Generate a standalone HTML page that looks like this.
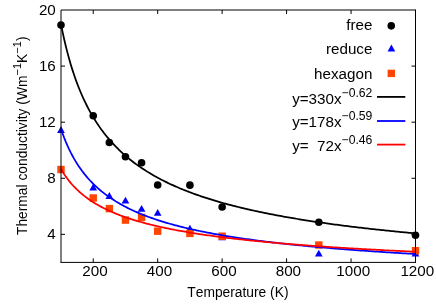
<!DOCTYPE html>
<html><head><meta charset="utf-8"><title>Thermal conductivity</title>
<style>
html,body{margin:0;padding:0;background:#fff;}
body{width:436px;height:305px;overflow:hidden;}
svg{display:block;will-change:transform;}
text{font-family:"Liberation Sans",sans-serif;fill:#000;font-kerning:none;}
.t{font-size:15.2px;}
.s{font-size:12.2px;}
.l{font-size:13.8px;}
.ls{font-size:11.05px;}
</style></head><body>
<svg width="436" height="305" viewBox="0 0 436 305">
<rect x="0" y="0" width="436" height="305" fill="#fff"/>
<g>
<circle cx="61.00" cy="25.10" r="3.8" fill="#000"/>
<circle cx="93.23" cy="115.80" r="3.8" fill="#000"/>
<circle cx="109.34" cy="142.50" r="3.8" fill="#000"/>
<circle cx="125.45" cy="156.70" r="3.8" fill="#000"/>
<circle cx="141.57" cy="162.70" r="3.8" fill="#000"/>
<circle cx="157.68" cy="185.05" r="3.8" fill="#000"/>
<circle cx="189.91" cy="185.15" r="3.8" fill="#000"/>
<circle cx="222.14" cy="207.00" r="3.8" fill="#000"/>
<circle cx="318.82" cy="222.30" r="3.8" fill="#000"/>
<circle cx="415.50" cy="235.30" r="3.8" fill="#000"/>
<path d="M61.00 126.07L64.85 132.97L57.15 132.97Z" fill="#0000ff"/>
<path d="M93.23 183.57L97.08 190.47L89.38 190.47Z" fill="#0000ff"/>
<path d="M109.34 192.07L113.19 198.97L105.49 198.97Z" fill="#0000ff"/>
<path d="M125.45 196.67L129.30 203.57L121.60 203.57Z" fill="#0000ff"/>
<path d="M141.57 204.97L145.42 211.87L137.72 211.87Z" fill="#0000ff"/>
<path d="M157.68 208.97L161.53 215.87L153.83 215.87Z" fill="#0000ff"/>
<path d="M189.91 224.67L193.76 231.57L186.06 231.57Z" fill="#0000ff"/>
<path d="M222.14 233.37L225.99 240.27L218.29 240.27Z" fill="#0000ff"/>
<path d="M318.82 249.67L322.67 256.57L314.97 256.57Z" fill="#0000ff"/>
<path d="M415.50 249.57L419.35 256.47L411.65 256.47Z" fill="#0000ff"/>
<rect x="57.30" y="165.80" width="7.4" height="7.4" fill="#ff4500"/>
<rect x="89.53" y="194.30" width="7.4" height="7.4" fill="#ff4500"/>
<rect x="105.64" y="204.90" width="7.4" height="7.4" fill="#ff4500"/>
<rect x="121.75" y="216.40" width="7.4" height="7.4" fill="#ff4500"/>
<rect x="137.87" y="213.70" width="7.4" height="7.4" fill="#ff4500"/>
<rect x="153.98" y="227.50" width="7.4" height="7.4" fill="#ff4500"/>
<rect x="186.21" y="229.70" width="7.4" height="7.4" fill="#ff4500"/>
<rect x="218.44" y="232.50" width="7.4" height="7.4" fill="#ff4500"/>
<rect x="315.12" y="241.30" width="7.4" height="7.4" fill="#ff4500"/>
<rect x="411.80" y="247.00" width="7.4" height="7.4" fill="#ff4500"/>
</g>
<polyline points="61.00,24.17 62.61,32.10 64.22,39.45 65.83,46.27 67.45,52.63 69.06,58.57 70.67,64.14 72.28,69.38 73.89,74.31 75.50,78.96 77.11,83.36 78.72,87.52 80.34,91.48 81.95,95.24 83.56,98.82 85.17,102.23 86.78,105.49 88.39,108.61 90.00,111.59 91.62,114.45 93.23,117.19 94.84,119.82 96.45,122.35 98.06,124.78 99.67,127.13 101.28,129.39 102.90,131.57 104.51,133.67 106.12,135.71 107.73,137.67 109.34,139.57 110.95,141.41 112.56,143.20 114.17,144.93 115.79,146.60 117.40,148.23 119.01,149.81 120.62,151.34 122.23,152.84 123.84,154.29 125.45,155.70 127.07,157.07 128.68,158.41 130.29,159.71 131.90,160.98 133.51,162.22 135.12,163.43 136.73,164.61 138.35,165.76 139.96,166.88 141.57,167.98 143.18,169.05 144.79,170.10 146.40,171.13 148.01,172.13 149.62,173.11 151.24,174.07 152.85,175.01 154.46,175.93 156.07,176.83 157.68,177.71 159.29,178.58 160.90,179.42 162.52,180.25 164.13,181.07 165.74,181.87 167.35,182.65 168.96,183.42 170.57,184.18 172.18,184.92 173.80,185.65 175.41,186.37 177.02,187.07 178.63,187.76 180.24,188.44 181.85,189.10 183.46,189.76 185.07,190.41 186.69,191.04 188.30,191.66 189.91,192.28 191.52,192.88 193.13,193.47 194.74,194.06 196.35,194.63 197.97,195.20 199.58,195.76 201.19,196.31 202.80,196.85 204.41,197.38 206.02,197.91 207.63,198.43 209.25,198.94 210.86,199.44 212.47,199.94 214.08,200.42 215.69,200.91 217.30,201.38 218.91,201.85 220.53,202.31 222.14,202.77 223.75,203.22 225.36,203.66 226.97,204.10 228.58,204.53 230.19,204.96 231.80,205.38 233.42,205.80 235.03,206.21 236.64,206.61 238.25,207.01 239.86,207.41 241.47,207.80 243.08,208.19 244.70,208.57 246.31,208.94 247.92,209.32 249.53,209.68 251.14,210.05 252.75,210.41 254.36,210.76 255.97,211.11 257.59,211.46 259.20,211.80 260.81,212.14 262.42,212.48 264.03,212.81 265.64,213.13 267.25,213.46 268.87,213.78 270.48,214.10 272.09,214.41 273.70,214.72 275.31,215.03 276.92,215.33 278.53,215.63 280.15,215.93 281.76,216.23 283.37,216.52 284.98,216.81 286.59,217.09 288.20,217.37 289.81,217.65 291.43,217.93 293.04,218.21 294.65,218.48 296.26,218.75 297.87,219.01 299.48,219.28 301.09,219.54 302.70,219.80 304.32,220.05 305.93,220.31 307.54,220.56 309.15,220.81 310.76,221.06 312.37,221.30 313.98,221.54 315.60,221.78 317.21,222.02 318.82,222.26 320.43,222.49 322.04,222.72 323.65,222.95 325.26,223.18 326.88,223.41 328.49,223.63 330.10,223.85 331.71,224.07 333.32,224.29 334.93,224.51 336.54,224.72 338.15,224.93 339.77,225.14 341.38,225.35 342.99,225.56 344.60,225.76 346.21,225.97 347.82,226.17 349.43,226.37 351.05,226.57 352.66,226.77 354.27,226.96 355.88,227.16 357.49,227.35 359.10,227.54 360.71,227.73 362.32,227.92 363.94,228.10 365.55,228.29 367.16,228.47 368.77,228.66 370.38,228.84 371.99,229.02 373.60,229.19 375.22,229.37 376.83,229.55 378.44,229.72 380.05,229.89 381.66,230.06 383.27,230.23 384.88,230.40 386.50,230.57 388.11,230.74 389.72,230.90 391.33,231.07 392.94,231.23 394.55,231.39 396.16,231.55 397.77,231.71 399.39,231.87 401.00,232.03 402.61,232.18 404.22,232.34 405.83,232.49 407.44,232.65 409.05,232.80 410.67,232.95 412.28,233.10 413.89,233.25 415.50,233.40" fill="none" stroke="#000" stroke-width="1.75" stroke-linejoin="round"/>
<polyline points="61.00,128.89 62.61,133.54 64.22,137.86 65.83,141.87 67.45,145.61 69.06,149.11 70.67,152.40 72.28,155.48 73.89,158.39 75.50,161.14 77.11,163.74 78.72,166.21 80.34,168.55 81.95,170.78 83.56,172.90 85.17,174.93 86.78,176.86 88.39,178.71 90.00,180.48 91.62,182.18 93.23,183.81 94.84,185.38 96.45,186.89 98.06,188.34 99.67,189.73 101.28,191.08 102.90,192.38 104.51,193.64 106.12,194.85 107.73,196.03 109.34,197.16 110.95,198.26 112.56,199.33 114.17,200.36 115.79,201.37 117.40,202.34 119.01,203.29 120.62,204.21 122.23,205.10 123.84,205.97 125.45,206.82 127.07,207.64 128.68,208.45 130.29,209.23 131.90,209.99 133.51,210.74 135.12,211.46 136.73,212.17 138.35,212.86 139.96,213.54 141.57,214.20 143.18,214.84 144.79,215.48 146.40,216.09 148.01,216.70 149.62,217.29 151.24,217.87 152.85,218.43 154.46,218.99 156.07,219.53 157.68,220.06 159.29,220.59 160.90,221.10 162.52,221.60 164.13,222.09 165.74,222.58 167.35,223.05 168.96,223.52 170.57,223.97 172.18,224.42 173.80,224.86 175.41,225.29 177.02,225.72 178.63,226.14 180.24,226.55 181.85,226.95 183.46,227.35 185.07,227.74 186.69,228.13 188.30,228.50 189.91,228.88 191.52,229.24 193.13,229.60 194.74,229.96 196.35,230.31 197.97,230.65 199.58,230.99 201.19,231.32 202.80,231.65 204.41,231.97 206.02,232.29 207.63,232.61 209.25,232.92 210.86,233.22 212.47,233.53 214.08,233.82 215.69,234.12 217.30,234.41 218.91,234.69 220.53,234.97 222.14,235.25 223.75,235.52 225.36,235.79 226.97,236.06 228.58,236.32 230.19,236.58 231.80,236.84 233.42,237.09 235.03,237.34 236.64,237.59 238.25,237.83 239.86,238.08 241.47,238.31 243.08,238.55 244.70,238.78 246.31,239.01 247.92,239.24 249.53,239.46 251.14,239.68 252.75,239.90 254.36,240.12 255.97,240.33 257.59,240.55 259.20,240.76 260.81,240.96 262.42,241.17 264.03,241.37 265.64,241.57 267.25,241.77 268.87,241.97 270.48,242.16 272.09,242.35 273.70,242.54 275.31,242.73 276.92,242.91 278.53,243.10 280.15,243.28 281.76,243.46 283.37,243.64 284.98,243.82 286.59,243.99 288.20,244.16 289.81,244.34 291.43,244.51 293.04,244.67 294.65,244.84 296.26,245.01 297.87,245.17 299.48,245.33 301.09,245.49 302.70,245.65 304.32,245.81 305.93,245.96 307.54,246.12 309.15,246.27 310.76,246.42 312.37,246.57 313.98,246.72 315.60,246.87 317.21,247.01 318.82,247.16 320.43,247.30 322.04,247.44 323.65,247.58 325.26,247.72 326.88,247.86 328.49,248.00 330.10,248.14 331.71,248.27 333.32,248.41 334.93,248.54 336.54,248.67 338.15,248.80 339.77,248.93 341.38,249.06 342.99,249.19 344.60,249.31 346.21,249.44 347.82,249.56 349.43,249.68 351.05,249.81 352.66,249.93 354.27,250.05 355.88,250.17 357.49,250.29 359.10,250.40 360.71,250.52 362.32,250.64 363.94,250.75 365.55,250.87 367.16,250.98 368.77,251.09 370.38,251.20 371.99,251.31 373.60,251.42 375.22,251.53 376.83,251.64 378.44,251.75 380.05,251.85 381.66,251.96 383.27,252.06 384.88,252.17 386.50,252.27 388.11,252.37 389.72,252.48 391.33,252.58 392.94,252.68 394.55,252.78 396.16,252.88 397.77,252.97 399.39,253.07 401.00,253.17 402.61,253.27 404.22,253.36 405.83,253.46 407.44,253.55 409.05,253.65 410.67,253.74 412.28,253.83 413.89,253.92 415.50,254.01" fill="none" stroke="#0000ff" stroke-width="1.75" stroke-linejoin="round"/>
<polyline points="61.00,169.06 62.61,171.76 64.22,174.27 65.83,176.62 67.45,178.83 69.06,180.90 70.67,182.86 72.28,184.72 73.89,186.47 75.50,188.13 77.11,189.72 78.72,191.23 80.34,192.66 81.95,194.04 83.56,195.35 85.17,196.61 86.78,197.82 88.39,198.98 90.00,200.10 91.62,201.17 93.23,202.20 94.84,203.20 96.45,204.16 98.06,205.09 99.67,205.99 101.28,206.86 102.90,207.70 104.51,208.51 106.12,209.30 107.73,210.07 109.34,210.81 110.95,211.53 112.56,212.23 114.17,212.92 115.79,213.58 117.40,214.23 119.01,214.86 120.62,215.47 122.23,216.07 123.84,216.65 125.45,217.22 127.07,217.77 128.68,218.31 130.29,218.84 131.90,219.36 133.51,219.86 135.12,220.36 136.73,220.84 138.35,221.31 139.96,221.78 141.57,222.23 143.18,222.67 144.79,223.11 146.40,223.53 148.01,223.95 149.62,224.36 151.24,224.76 152.85,225.16 154.46,225.54 156.07,225.92 157.68,226.29 159.29,226.66 160.90,227.02 162.52,227.37 164.13,227.72 165.74,228.06 167.35,228.39 168.96,228.72 170.57,229.05 172.18,229.36 173.80,229.68 175.41,229.99 177.02,230.29 178.63,230.59 180.24,230.88 181.85,231.17 183.46,231.45 185.07,231.73 186.69,232.01 188.30,232.28 189.91,232.55 191.52,232.82 193.13,233.08 194.74,233.33 196.35,233.59 197.97,233.84 199.58,234.08 201.19,234.33 202.80,234.57 204.41,234.80 206.02,235.04 207.63,235.27 209.25,235.49 210.86,235.72 212.47,235.94 214.08,236.16 215.69,236.37 217.30,236.59 218.91,236.80 220.53,237.00 222.14,237.21 223.75,237.41 225.36,237.61 226.97,237.81 228.58,238.01 230.19,238.20 231.80,238.39 233.42,238.58 235.03,238.77 236.64,238.95 238.25,239.13 239.86,239.31 241.47,239.49 243.08,239.67 244.70,239.84 246.31,240.02 247.92,240.19 249.53,240.36 251.14,240.52 252.75,240.69 254.36,240.85 255.97,241.02 257.59,241.18 259.20,241.33 260.81,241.49 262.42,241.65 264.03,241.80 265.64,241.95 267.25,242.10 268.87,242.25 270.48,242.40 272.09,242.55 273.70,242.69 275.31,242.84 276.92,242.98 278.53,243.12 280.15,243.26 281.76,243.40 283.37,243.54 284.98,243.67 286.59,243.81 288.20,243.94 289.81,244.07 291.43,244.20 293.04,244.33 294.65,244.46 296.26,244.59 297.87,244.72 299.48,244.84 301.09,244.97 302.70,245.09 304.32,245.21 305.93,245.33 307.54,245.45 309.15,245.57 310.76,245.69 312.37,245.81 313.98,245.92 315.60,246.04 317.21,246.15 318.82,246.27 320.43,246.38 322.04,246.49 323.65,246.60 325.26,246.71 326.88,246.82 328.49,246.93 330.10,247.04 331.71,247.14 333.32,247.25 334.93,247.35 336.54,247.46 338.15,247.56 339.77,247.66 341.38,247.76 342.99,247.86 344.60,247.96 346.21,248.06 347.82,248.16 349.43,248.26 351.05,248.36 352.66,248.45 354.27,248.55 355.88,248.64 357.49,248.74 359.10,248.83 360.71,248.93 362.32,249.02 363.94,249.11 365.55,249.20 367.16,249.29 368.77,249.38 370.38,249.47 371.99,249.56 373.60,249.65 375.22,249.73 376.83,249.82 378.44,249.91 380.05,249.99 381.66,250.08 383.27,250.16 384.88,250.25 386.50,250.33 388.11,250.41 389.72,250.50 391.33,250.58 392.94,250.66 394.55,250.74 396.16,250.82 397.77,250.90 399.39,250.98 401.00,251.06 402.61,251.13 404.22,251.21 405.83,251.29 407.44,251.37 409.05,251.44 410.67,251.52 412.28,251.59 413.89,251.67 415.50,251.74" fill="none" stroke="#ff0000" stroke-width="1.75" stroke-linejoin="round"/>
<g stroke="#000" stroke-width="1" fill="none">
<path d="M61.0 262.4L61.0 10.0L415.5 10.0"/>
<path d="M415.5 9.5L415.5 262.9"/><path d="M60.5 262.4L416.0 262.4"/>
<path d="M61.0 234.36h4M415.5 234.36h-4"/>
<path d="M61.0 178.27h4M415.5 178.27h-4"/>
<path d="M61.0 122.18h4M415.5 122.18h-4"/>
<path d="M61.0 66.09h4M415.5 66.09h-4"/>
<path d="M93.23 262.4v-4M93.23 10.0v4"/>
<path d="M157.68 262.4v-4M157.68 10.0v4"/>
<path d="M222.14 262.4v-4M222.14 10.0v4"/>
<path d="M286.59 262.4v-4M286.59 10.0v4"/>
<path d="M351.05 262.4v-4M351.05 10.0v4"/>
</g>
<text class="t" x="55.8" y="239.36" text-anchor="end">4</text>
<text class="t" x="55.8" y="183.27" text-anchor="end">8</text>
<text class="t" x="55.8" y="127.18" text-anchor="end">12</text>
<text class="t" x="55.8" y="71.09" text-anchor="end">16</text>
<text class="t" x="55.8" y="15.00" text-anchor="end">20</text>
<text class="t" x="95.03" y="276" text-anchor="middle">200</text>
<text class="t" x="159.48" y="276" text-anchor="middle">400</text>
<text class="t" x="223.94" y="276" text-anchor="middle">600</text>
<text class="t" x="288.39" y="276" text-anchor="middle">800</text>
<text class="t" x="353.25" y="276" text-anchor="middle">1000</text>
<text class="t" x="417.30" y="276" text-anchor="middle">1200</text>
<text class="l" x="237.9" y="297" text-anchor="middle">Temperature (K)</text>
<text class="l" transform="translate(26.8,235) rotate(-90)">Thermal conductivity (Wm<tspan class="ls" dy="-6">−1</tspan><tspan dy="6">K</tspan><tspan class="ls" dy="-6">−1</tspan><tspan dy="6">)</tspan></text>
<text class="t" x="372.4" y="30.25" text-anchor="end">free</text>
<text class="t" x="372.4" y="54.15" text-anchor="end">reduce</text>
<text class="t" x="372.4" y="78.6" text-anchor="end">hexagon</text>
<circle cx="391.25" cy="25.85" r="3.8" fill="#000"/>
<path d="M391.40 44.52L395.25 51.42L387.55 51.42Z" fill="#0000ff"/>
<rect x="387.60" y="69.70" width="7.4" height="7.4" fill="#ff4500"/>
<text class="t" x="372.4" y="103.70" text-anchor="end" xml:space="preserve">y=330x<tspan class="s" dy="-7.2">−0.62</tspan></text>
<path d="M377 96.9H405.3" stroke="#000" stroke-width="1.8" fill="none"/>
<text class="t" x="372.4" y="127.30" text-anchor="end" xml:space="preserve">y=178x<tspan class="s" dy="-7.2">−0.59</tspan></text>
<path d="M377 121.0H405.3" stroke="#0000ff" stroke-width="1.8" fill="none"/>
<text class="t" x="372.4" y="151.40" text-anchor="end" xml:space="preserve">y=  72x<tspan class="s" dy="-7.2">−0.46</tspan></text>
<path d="M377 144.6H405.3" stroke="#ff0000" stroke-width="1.8" fill="none"/>
</svg></body></html>
